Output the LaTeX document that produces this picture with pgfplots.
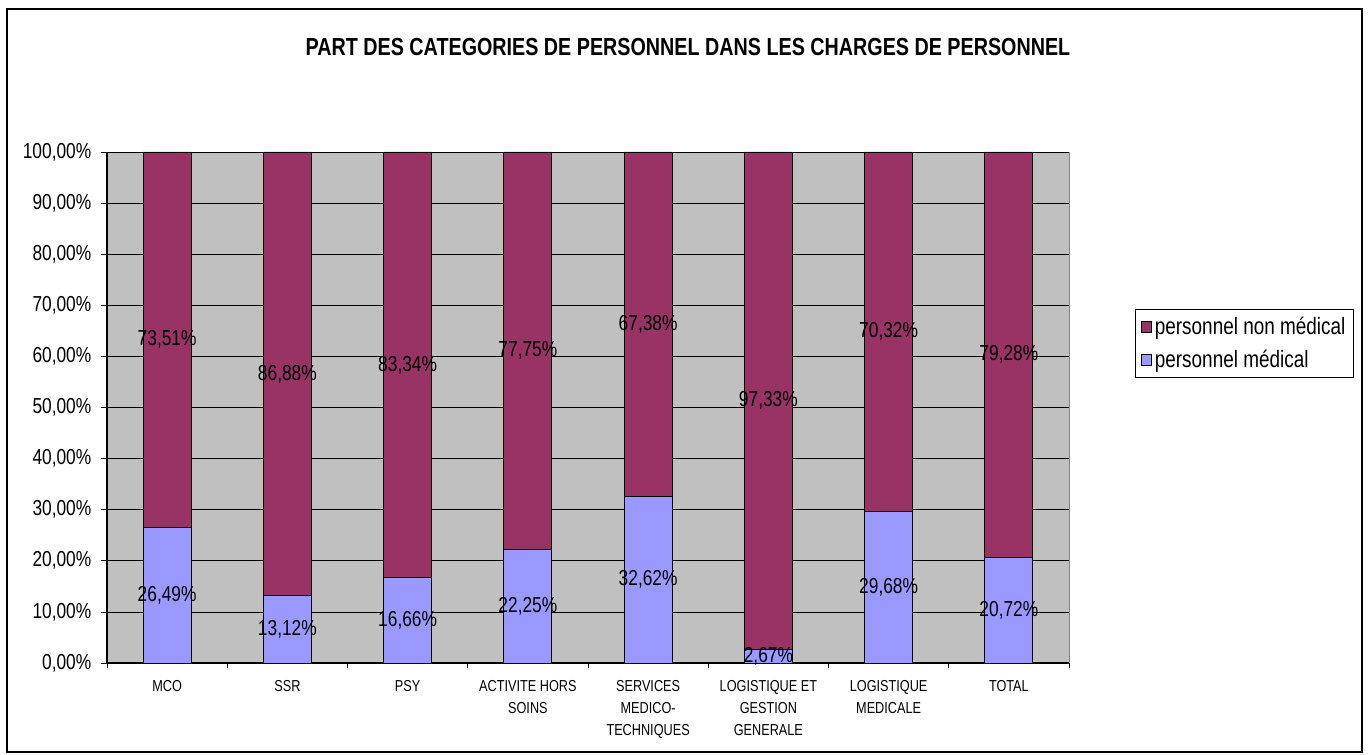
\documentclass[border=0pt]{standalone}
\usepackage{fontspec}
\setmainfont{Liberation Sans}[FakeStretch=0.8]
\usepackage{pgfplots}
\pgfplotsset{compat=1.18}
\definecolor{nonmed}{HTML}{993366}
\definecolor{med}{HTML}{9999FF}
\definecolor{plotbg}{HTML}{C0C0C0}

\begin{document}
\begin{tikzpicture}
  \path[use as bounding box] (0,0) rectangle (1026.75pt,565.5pt);
  \draw[black, line width=1.1pt] (5.25pt,1.5pt) rectangle (1021.5pt,558.75pt);
  \node[font=\fontsize{18.5}{20}\selectfont\bfseries] at (516pt,530.25pt)
    {PART DES CATEGORIES DE PERSONNEL DANS LES CHARGES DE PERSONNEL};

  %% bars
  \begin{axis}[
    at={(80.25pt,68.25pt)}, anchor=south west,
    scale only axis, width=721.5pt, height=383.25pt,
    ybar stacked, bar width=36pt,
    xmin=-0.5, xmax=7.5, ymin=0, ymax=100,
    enlargelimits=false,
    axis x line*=bottom, axis y line*=left,
    axis line style={black, line width=0.9pt},
    axis background/.style={fill=plotbg, draw=gray},
    ymajorgrids, grid style={black, line width=0.6pt},
    tick align=outside,
    ytick={0,10,...,100},
    yticklabels={{0,00\%},{10,00\%},{20,00\%},{30,00\%},{40,00\%},{50,00\%},
                 {60,00\%},{70,00\%},{80,00\%},{90,00\%},{100,00\%}},
    yticklabel style={font=\fontsize{16.25}{18}\selectfont, xshift=-3.75pt},
    ytick style={black, line width=0.6pt},
    major tick length=4.5pt,
    xtick={0,...,7},
    xticklabels={MCO, SSR, PSY, {ACTIVITE HORS\\SOINS},
                 {SERVICES\\MEDICO-\\TECHNIQUES},
                 {LOGISTIQUE ET\\GESTION\\GENERALE},
                 {LOGISTIQUE\\MEDICALE}, TOTAL},
    xticklabel style={align=center, font=\fontsize{11.9}{16.5}\selectfont, yshift=-5pt},
    major x tick style={draw=none},
    minor xtick={-0.5,0.5,...,7.5},
    minor x tick style={draw=black, line width=0.6pt},
    minor tick length=4pt,
    reverse legend,
    legend cell align=left,
    legend style={at={(1.0686,0.6928)}, anchor=north west,
                  draw=black, fill=white, line width=0.6pt,
                  font=\fontsize{17.75}{19}\selectfont,
                  row sep=6pt, inner sep=4pt},
    legend image code/.code={\draw[#1, draw=black, line width=0.6pt]
                             (0pt,-4pt) rectangle (8pt,4pt);},
  ]
    \addplot[fill=med, draw=black, line width=0.7pt] coordinates {
      (0,26.49) (1,13.12) (2,16.66) (3,22.25) (4,32.62) (5,2.67) (6,29.68) (7,20.72)
    };
    \addplot[fill=nonmed, draw=black, line width=0.7pt] coordinates {
      (0,73.51) (1,86.88) (2,83.34) (3,77.75) (4,67.38) (5,97.33) (6,70.32) (7,79.28)
    };
    \legend{personnel médical, personnel non médical}
  \end{axis}

  %% segment labels, at the middle of each segment
  \begin{axis}[
    at={(80.25pt,68.25pt)}, anchor=south west,
    scale only axis, width=721.5pt, height=383.25pt,
    xmin=-0.5, xmax=7.5, ymin=0, ymax=100,
    enlargelimits=false, axis lines=none,
    nodes near coords, nodes near coords align=center,
    point meta=explicit symbolic,
    every node near coord/.append style={font=\fontsize{16.25}{18}\selectfont, text=black},
  ]
    \addplot[draw=none, mark=none] coordinates {
      (0,13.245) [26,49\%] (1,6.56) [13,12\%] (2,8.33) [16,66\%] (3,11.125) [22,25\%]
      (4,16.31) [32,62\%] (5,1.335) [2,67\%] (6,14.84) [29,68\%] (7,10.36) [20,72\%]
    };
    \addplot[draw=none, mark=none] coordinates {
      (0,63.245) [73,51\%] (1,56.56) [86,88\%] (2,58.33) [83,34\%] (3,61.125) [77,75\%]
      (4,66.31) [67,38\%] (5,51.335) [97,33\%] (6,64.84) [70,32\%] (7,60.36) [79,28\%]
    };
  \end{axis}
\end{tikzpicture}
\end{document}
